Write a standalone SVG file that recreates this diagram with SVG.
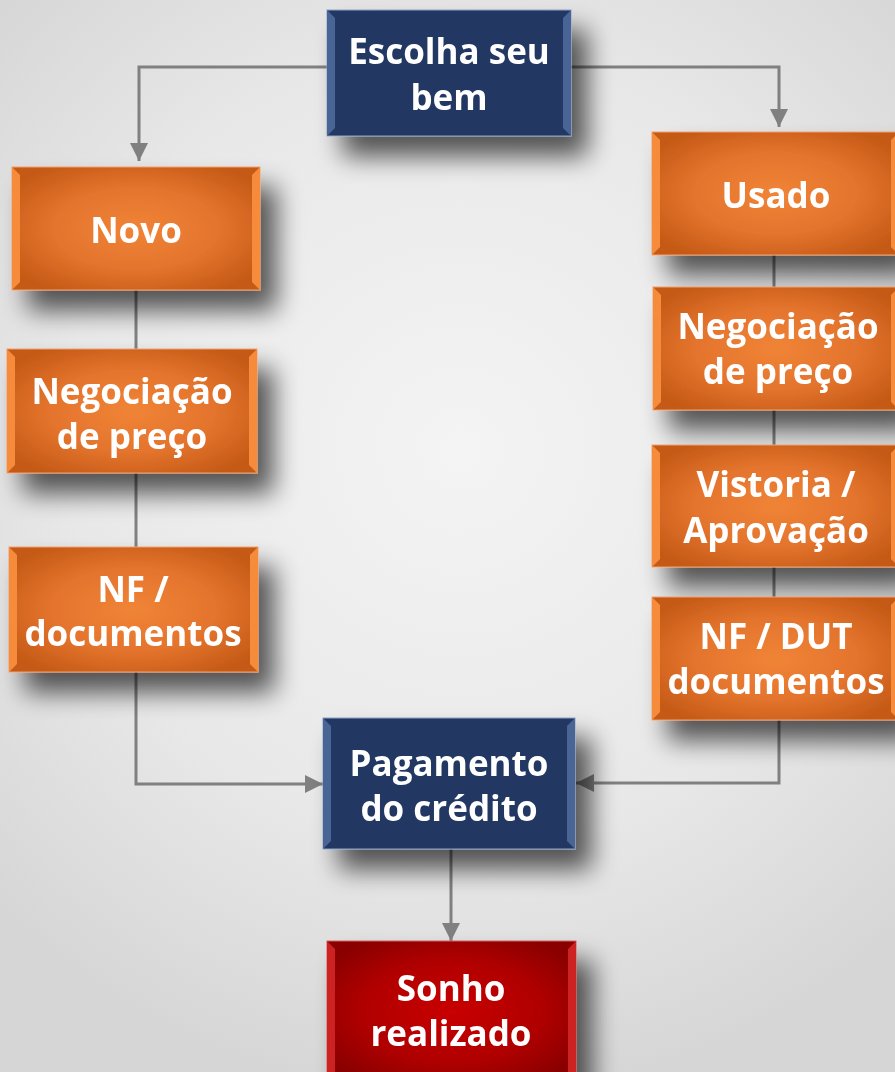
<svg xmlns="http://www.w3.org/2000/svg" width="895" height="1072" viewBox="0 0 895 1072">
<defs>
<radialGradient id="bg" cx="460" cy="450" r="650" gradientUnits="userSpaceOnUse">
<stop offset="0" stop-color="#f4f4f4"/><stop offset="0.6" stop-color="#e8e8e8"/><stop offset="1" stop-color="#d6d6d6"/>
</radialGradient>
<radialGradient id="or" cx="0.5" cy="0.5" r="0.6">
<stop offset="0" stop-color="#f08436"/><stop offset="0.55" stop-color="#e4742d"/><stop offset="1" stop-color="#c55a16"/>
</radialGradient>
<radialGradient id="rd" cx="0.5" cy="0.5" r="0.6">
<stop offset="0" stop-color="#c80000"/><stop offset="0.6" stop-color="#b00000"/><stop offset="1" stop-color="#8a0000"/>
</radialGradient>
<filter id="sh" x="-30%" y="-30%" width="170%" height="180%">
<feGaussianBlur in="SourceAlpha" stdDeviation="13"/>
<feOffset dx="16" dy="20" result="b"/>
<feComponentTransfer><feFuncA type="linear" slope="0.65"/></feComponentTransfer>
<feMerge><feMergeNode/><feMergeNode in="SourceGraphic"/></feMerge>
</filter>
<marker id="ar" viewBox="0 0 10 10" refX="10" refY="5" markerWidth="6" markerHeight="6" orient="auto" markerUnits="strokeWidth">
<path d="M0,0 L10,5 L0,10 z" fill="#808080"/>
</marker>
<style>
.t{font-family:"Open Sans","Noto Sans","Liberation Sans",sans-serif;font-weight:bold;font-size:35px;fill:#ffffff;text-anchor:middle}
.nv{fill:#203864;stroke:#8fa2c4;stroke-width:1}
.org{fill:url(#or);stroke:#f0a070;stroke-width:1}
.red{fill:url(#rd);stroke:#d06060;stroke-width:1}
.bvn{fill:#4a6595}
.bvo{fill:#f68c3a}
.bvr{fill:#cc2222}
.c{fill:none;stroke:#808080;stroke-width:3}
</style>
</defs>
<rect width="895" height="1072" fill="url(#bg)"/>

<g id="connectors">
<path class="c" d="M327,67 H139 V161" marker-end="url(#ar)"/>
<path class="c" d="M571,67 H779 V127" marker-end="url(#ar)"/>
<path class="c" d="M136,290 V349"/>
<path class="c" d="M136,473 V547"/>
<path class="c" d="M774,255 V287"/>
<path class="c" d="M774,410 V445"/>
<path class="c" d="M774,567 V597"/>
<path class="c" d="M136,672 V784 H323" marker-end="url(#ar)"/>
<path class="c" d="M779,720 V783 H576" marker-end="url(#ar)"/>
<path class="c" d="M451,849 V941" marker-end="url(#ar)"/>
</g>

<g id="escolha" filter="url(#sh)">
<rect class="nv" x="327" y="10" width="244" height="126"/>
<polygon class="bvn" points="327,10 335,18 335,128 327,136"/>
<polygon class="bvn" points="571,10 563,18 563,128 571,136"/>
<text class="t" x="449" y="64">Escolha seu</text>
<text class="t" x="449" y="110">bem</text>
</g>

<g id="novo" filter="url(#sh)">
<rect class="org" x="12" y="167" width="248" height="123"/>
<polygon class="bvo" points="12,167 20,175 20,282 12,290"/>
<polygon class="bvo" points="260,167 252,175 252,282 260,290"/>
<text class="t" x="136" y="243">Novo</text>
</g>

<g id="negociacao-novo" filter="url(#sh)">
<rect class="org" x="7" y="349" width="250" height="124"/>
<polygon class="bvo" points="7,349 15,357 15,465 7,473"/>
<polygon class="bvo" points="257,349 249,357 249,465 257,473"/>
<text class="t" x="132" y="404">Negociação</text>
<text class="t" x="132" y="449">de preço</text>
</g>

<g id="nf-novo" filter="url(#sh)">
<rect class="org" x="9" y="547" width="249" height="125"/>
<polygon class="bvo" points="9,547 17,555 17,664 9,672"/>
<polygon class="bvo" points="258,547 250,555 250,664 258,672"/>
<text class="t" x="133" y="602">NF /</text>
<text class="t" x="133" y="646">documentos</text>
</g>

<g id="usado" filter="url(#sh)">
<rect class="org" x="652" y="132" width="247" height="123"/>
<polygon class="bvo" points="652,132 660,140 660,247 652,255"/>
<polygon class="bvo" points="899,132 891,140 891,247 899,255"/>
<text class="t" x="776" y="208">Usado</text>
</g>

<g id="negociacao-usado" filter="url(#sh)">
<rect class="org" x="653" y="287" width="246" height="123"/>
<polygon class="bvo" points="653,287 661,295 661,402 653,410"/>
<polygon class="bvo" points="899,287 891,295 891,402 899,410"/>
<text class="t" x="778" y="339">Negociação</text>
<text class="t" x="778" y="384">de preço</text>
</g>

<g id="vistoria" filter="url(#sh)">
<rect class="org" x="652" y="445" width="247" height="122"/>
<polygon class="bvo" points="652,445 660,453 660,559 652,567"/>
<polygon class="bvo" points="899,445 891,453 891,559 899,567"/>
<text class="t" x="776" y="497">Vistoria /</text>
<text class="t" x="776" y="543">Aprovação</text>
</g>

<g id="nf-dut" filter="url(#sh)">
<rect class="org" x="652" y="597" width="247" height="123"/>
<polygon class="bvo" points="652,597 660,605 660,712 652,720"/>
<polygon class="bvo" points="899,597 891,605 891,712 899,720"/>
<text class="t" x="776" y="649">NF / DUT</text>
<text class="t" x="776" y="694">documentos</text>
</g>

<g id="pagamento" filter="url(#sh)">
<rect class="nv" x="323" y="718" width="252" height="131"/>
<polygon class="bvn" points="323,718 331,726 331,841 323,849"/>
<polygon class="bvn" points="575,718 567,726 567,841 575,849"/>
<text class="t" x="449" y="776">Pagamento</text>
<text class="t" x="449" y="821">do crédito</text>
</g>

<g id="sonho" filter="url(#sh)">
<rect class="red" x="327" y="941" width="249" height="140"/>
<polygon class="bvr" points="327,941 335,949 335,1081 327,1081"/>
<polygon class="bvr" points="576,941 568,949 568,1081 576,1081"/>
<text class="t" x="451" y="1001">Sonho</text>
<text class="t" x="451" y="1046">realizado</text>
</g>
</svg>
